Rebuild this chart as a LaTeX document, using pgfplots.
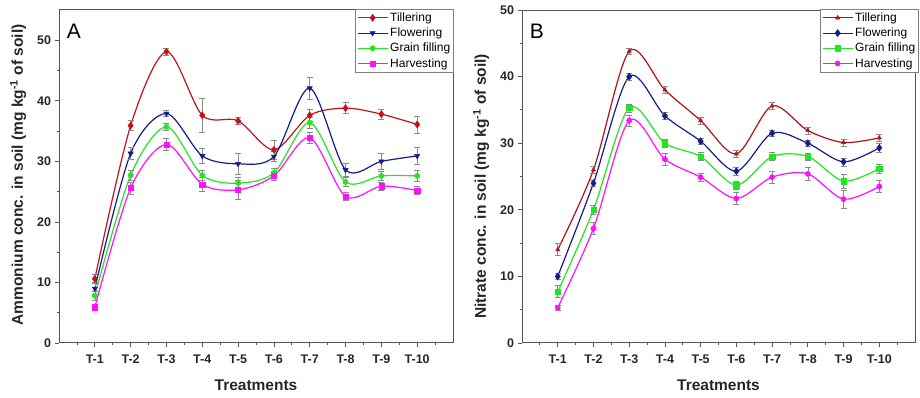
\documentclass[border=0pt]{standalone}
\usepackage{pgfplots}
\pgfplotsset{compat=1.18}
\usepackage{fontspec}
\setmainfont{Liberation Sans}
\definecolor{cred}{HTML}{C0141B}
\definecolor{cnavy}{HTML}{141C8C}
\definecolor{cgreen}{HTML}{22E622}
\definecolor{cmag}{HTML}{FF10FF}
\definecolor{axgray}{HTML}{555555}
\definecolor{errgray}{HTML}{8A8A8A}

\pgfplotsset{
  panel/.style={
    width=394pt, height=333pt, scale only axis,
    xmin=0, xmax=11,
    xtick={1,2,3,4,5,6,7,8,9,10},
    xticklabels={T-1,T-2,T-3,T-4,T-5,T-6,T-7,T-8,T-9,T-10},
    minor xtick={0.5,1.5,2.5,3.5,4.5,5.5,6.5,7.5,8.5,9.5,10.5},
    minor y tick num=1,
    xtick pos=bottom, ytick pos=left,
    tick align=outside,
    axis line style={axgray, line width=1pt},
    major tick length=4.5pt, minor tick length=2.5pt,
    every tick/.style={axgray, line width=0.8pt},
    ticklabel style={font=\fontsize{12.5}{14}\selectfont\bfseries, text=black!85},
    xticklabel style={yshift=-4pt},
    /pgf/number format/assume math mode=true,
    xlabel={Treatments},
    xlabel style={font=\fontsize{15.5}{17}\selectfont\bfseries, text=black!85, yshift=-9pt},
    ylabel style={font=\fontsize{15.5}{17}\selectfont\bfseries, text=black!85, yshift=4pt},
    legend style={at={(1,1)}, anchor=north east, draw=gray, line width=0.6pt,
      font=\fontsize{12}{13}\selectfont, inner sep=1.5pt, row sep=1pt,
      fill=white},
    legend cell align=left,
    legend image code/.code={\draw[mark repeat=2, mark phase=2, line width=1.1pt]
      plot coordinates {(0pt,0pt) (15pt,0pt) (30pt,0pt)};},
    error bars/y dir=both, error bars/y explicit,
    error bars/error bar style={errgray, line width=0.6pt, solid},
    error bars/error mark options={rotate=90, mark size=3pt, errgray, line width=0.6pt},
    every axis plot/.append style={line width=1.2pt, smooth, tension=0.5},
  }
}

\begin{document}
\begin{tikzpicture}
\path[use as bounding box] (0,0) rectangle (920pt,398pt);

% ---------------- Panel A ----------------
\begin{axis}[panel,
  at={(59pt,55pt)}, anchor=south west,
  ymin=0, ymax=55, ytick={0,10,20,30,40,50},
  ylabel={Ammonium conc. in soil (mg kg\textsuperscript{-1} of soil)},
  ylabel style={at={(ticklabel cs:0.505)}},
  legend style={yshift=1pt, xshift=1pt},
]
\addplot[cred, mark=diamond*, mark size=3.5pt, mark options={fill=cred, line width=0.5pt}]
  table[x=x, y=y, y error=e] {
x y e
1 10.6 0.7
2 35.9 0.8
3 48.1 0.6
4 37.6 2.8
5 36.7 0.5
6 31.9 1.5
7 37.6 1.0
8 38.8 0.9
9 37.8 0.8
10 36.1 1.4
};
\addlegendentry{Tillering}
\addplot[cnavy, mark=triangle*, mark size=3pt, mark options={rotate=180, fill=cnavy, line width=0.5pt}]
  table[x=x, y=y, y error=e] {
x y e
1 9.0 1.0
2 31.3 1.0
3 37.9 0.5
4 30.9 1.2
5 29.6 1.8
6 30.8 0.8
7 42.1 1.8
8 28.6 1.0
9 30.0 1.3
10 30.9 1.4
};
\addlegendentry{Flowering}
\addplot[cgreen, mark=*, mark size=2.6pt, mark options={fill=cgreen, line width=0.5pt}]
  table[x=x, y=y, y error=e] {
x y e
1 7.8 0.8
2 27.7 0.8
3 35.7 0.6
4 27.7 0.9
5 26.4 0.9
6 28.1 0.8
7 36.4 0.9
8 26.6 0.8
9 27.6 0.8
10 27.6 0.9
};
\addlegendentry{Grain filling}
\addplot[cmag, mark=square*, mark size=2.6pt, mark options={fill=cmag, line width=0.5pt}]
  table[x=x, y=y, y error=e] {
x y e
1 5.9 0.5
2 25.6 1.0
3 32.8 1.0
4 26.2 1.2
5 25.3 1.5
6 27.6 0.8
7 33.9 0.9
8 24.2 0.7
9 25.9 0.6
10 25.2 0.6
};
\addlegendentry{Harvesting}
\node[font=\fontsize{21}{22}\selectfont, anchor=center] at (rel axis cs:0.038,0.937) {A};
\end{axis}

% ---------------- Panel B ----------------
\begin{axis}[panel,
  at={(522pt,55pt)}, anchor=south west, width=393pt,
  ymin=0, ymax=50, ytick={0,10,20,30,40,50},
  ylabel={Nitrate conc. in soil (mg kg\textsuperscript{-1} of soil)},
  ylabel style={at={(ticklabel cs:0.47)}},
  legend style={xshift=4pt, yshift=1pt},
]
\addplot[cred!90!black, mark=triangle*, mark size=2.4pt, mark options={fill=cred, line width=0.5pt}]
  table[x=x, y=y, y error=e] {
x y e
1 14.0 0.9
2 26.0 0.5
3 43.8 0.5
4 38.0 0.5
5 33.4 0.5
6 28.4 0.5
7 35.6 0.5
8 31.9 0.5
9 30.1 0.5
10 30.8 0.5
};
\addlegendentry{Tillering}
\addplot[cnavy, mark=diamond*, mark size=3.5pt, mark options={fill=cnavy, line width=0.5pt}]
  table[x=x, y=y, y error=e] {
x y e
1 10.0 0.5
2 24.0 0.5
3 40.0 0.5
4 34.1 0.5
5 30.3 0.5
6 25.8 0.6
7 31.5 0.5
8 30.0 0.5
9 27.2 0.6
10 29.3 0.7
};
\addlegendentry{Flowering}
\addplot[cgreen, mark=square*, mark size=2.7pt, mark options={fill=cgreen, line width=0.5pt}]
  table[x=x, y=y, y error=e] {
x y e
1 7.7 0.9
2 20.0 0.7
3 35.3 0.6
4 30.0 0.6
5 28.0 0.6
6 23.7 0.6
7 28.0 0.6
8 28.0 0.5
9 24.3 1.0
10 26.2 0.7
};
\addlegendentry{Grain filling}
\addplot[cmag, mark=*, mark size=2.6pt, mark options={fill=cmag, line width=0.5pt}]
  table[x=x, y=y, y error=e] {
x y e
1 5.3 0.4
2 17.2 0.9
3 33.4 0.8
4 27.6 0.9
5 24.9 0.6
6 21.7 0.9
7 24.9 0.9
8 25.4 1.0
9 21.6 1.3
10 23.5 0.9
};
\addlegendentry{Harvesting}
\node[font=\fontsize{21}{22}\selectfont, anchor=center] at (rel axis cs:0.038,0.935) {B};
\end{axis}
\end{tikzpicture}
\end{document}
